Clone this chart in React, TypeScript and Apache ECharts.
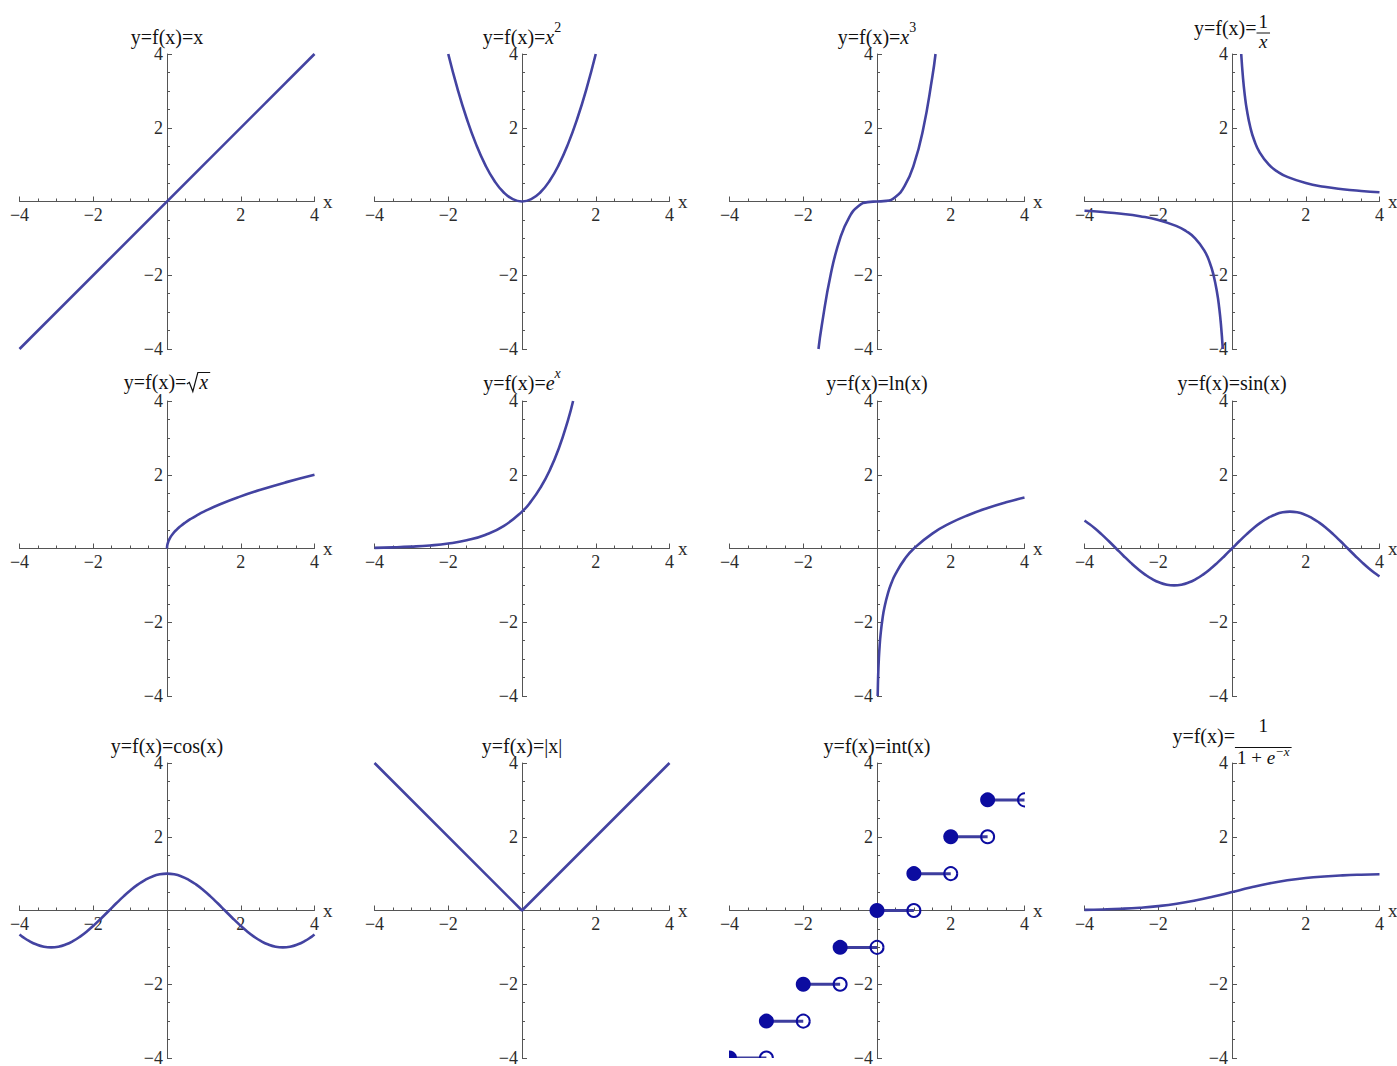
import React, { useEffect, useRef } from "react";
import * as echarts from "echarts";

const SERIF = "Liberation Serif";
const CURVE = "#4343a1";
const STEP_LINE = "#3d3d9e";
const DOT = "#0c0ca0";
const AXIS = "#555555";
const LABEL = "#2b2b2b";
const TITLE = "#111111";

// Axis range and labelled ticks shared by every panel
const axisMin = -4;
const axisMax = 4;
const labelledTicks = [-4, -2, 2, 4];

// y = x
const identityX = [-4, 4];
const identityY = [-4, 4];

// y = x^2
const squareX = [-2, -1.75, -1.5, -1.25, -1, -0.75, -0.5, -0.25, 0, 0.25, 0.5, 0.75, 1, 1.25, 1.5, 1.75, 2];
const squareY = [4, 3.0625, 2.25, 1.5625, 1, 0.5625, 0.25, 0.0625, 0, 0.0625, 0.25, 0.5625, 1, 1.5625, 2.25, 3.0625, 4];

// y = x^3
const cubeX = [-1.587, -1.5, -1.25, -1, -0.75, -0.5, -0.25, 0, 0.25, 0.5, 0.75, 1, 1.25, 1.5, 1.587];
const cubeY = [-4, -3.375, -1.953, -1, -0.422, -0.125, -0.016, 0, 0.016, 0.125, 0.422, 1, 1.953, 3.375, 4];

// y = 1/x, two branches
const recipPosX = [0.25, 0.3, 0.35, 0.4, 0.5, 0.6, 0.75, 1, 1.25, 1.5, 2, 2.5, 3, 3.5, 4];
const recipPosY = [4, 3.333, 2.857, 2.5, 2, 1.667, 1.333, 1, 0.8, 0.667, 0.5, 0.4, 0.333, 0.286, 0.25];
const recipNegX = [-4, -3.5, -3, -2.5, -2, -1.5, -1.25, -1, -0.75, -0.6, -0.5, -0.4, -0.35, -0.3, -0.25];
const recipNegY = [-0.25, -0.286, -0.333, -0.4, -0.5, -0.667, -0.8, -1, -1.333, -1.667, -2, -2.5, -2.857, -3.333, -4];

// y = sqrt(x)
const sqrtX = [0, 0.01, 0.04, 0.09, 0.16, 0.25, 0.36, 0.49, 0.64, 0.81, 1, 1.44, 1.96, 2.56, 3.24, 4];
const sqrtY = [0, 0.1, 0.2, 0.3, 0.4, 0.5, 0.6, 0.7, 0.8, 0.9, 1, 1.2, 1.4, 1.6, 1.8, 2];

// y = e^x
const expX = [-4, -3.5, -3, -2.5, -2, -1.5, -1, -0.5, 0, 0.25, 0.5, 0.75, 1, 1.25, 1.386];
const expY = [0.018, 0.03, 0.05, 0.082, 0.135, 0.223, 0.368, 0.607, 1, 1.284, 1.649, 2.117, 2.718, 3.49, 4];

// y = ln(x)
const lnX = [0.0183, 0.025, 0.035, 0.05, 0.07, 0.1, 0.15, 0.2, 0.3, 0.4, 0.5, 0.75, 1, 1.5, 2, 2.5, 3, 3.5, 4];
const lnY = [-4, -3.689, -3.352, -2.996, -2.659, -2.303, -1.897, -1.609, -1.204, -0.916, -0.693, -0.288, 0, 0.405, 0.693, 0.916, 1.099, 1.253, 1.386];

// y = sin(x) and y = cos(x), sampled every pi/16 plus the two ends
const trigX = [-4, -3.927, -3.7306, -3.5343, -3.3379, -3.1416, -2.9452, -2.7489, -2.5525, -2.3562, -2.1598, -1.9635,
  -1.7671, -1.5708, -1.3744, -1.1781, -0.9817, -0.7854, -0.589, -0.3927, -0.1963, 0,
  0.1963, 0.3927, 0.589, 0.7854, 0.9817, 1.1781, 1.3744, 1.5708, 1.7671, 1.9635, 2.1598,
  2.3562, 2.5525, 2.7489, 2.9452, 3.1416, 3.3379, 3.5343, 3.7306, 3.927, 4];
const sinY = [0.7568, 0.7071, 0.5556, 0.3827, 0.1951, 0, -0.1951, -0.3827, -0.5556, -0.7071, -0.8315, -0.9239,
  -0.9808, -1, -0.9808, -0.9239, -0.8315, -0.7071, -0.5556, -0.3827, -0.1951, 0,
  0.1951, 0.3827, 0.5556, 0.7071, 0.8315, 0.9239, 0.9808, 1, 0.9808, 0.9239, 0.8315,
  0.7071, 0.5556, 0.3827, 0.1951, 0, -0.1951, -0.3827, -0.5556, -0.7071, -0.7568];
const cosY = [-0.6536, -0.7071, -0.8315, -0.9239, -0.9808, -1, -0.9808, -0.9239, -0.8315, -0.7071, -0.5556, -0.3827,
  -0.1951, 0, 0.1951, 0.3827, 0.5556, 0.7071, 0.8315, 0.9239, 0.9808, 1,
  0.9808, 0.9239, 0.8315, 0.7071, 0.5556, 0.3827, 0.1951, 0, -0.1951, -0.3827, -0.5556,
  -0.7071, -0.8315, -0.9239, -0.9808, -1, -0.9808, -0.9239, -0.8315, -0.7071, -0.6536];

// y = |x|
const absX = [-4, 0, 4];
const absY = [4, 0, 4];

// y = int(x): each step runs from its left end (closed) to its right end (open)
const stepLeft = [-4, -3, -2, -1, 0, 1, 2, 3];
const stepRight = [-3, -2, -1, 0, 1, 2, 3, 4];
const stepValue = [-4, -3, -2, -1, 0, 1, 2, 3];

// y = 1 / (1 + e^-x)
const logisticX = [-4, -3.5, -3, -2.5, -2, -1.5, -1, -0.5, 0, 0.5, 1, 1.5, 2, 2.5, 3, 3.5, 4];
const logisticY = [0.018, 0.029, 0.047, 0.076, 0.119, 0.182, 0.269, 0.378, 0.5, 0.622, 0.731, 0.818, 0.881, 0.924, 0.953, 0.971, 0.982];

type Tok = { t: string; it?: boolean; sup?: boolean };
type Piece = Tok | { frac: [Tok[], Tok[]] } | { sqrt: Tok[] };

const LHS: Tok = { t: "y=f(x)=" };
const panelTitles: Piece[][] = [
  [{ t: "y=f(x)=x" }],
  [LHS, { t: "x", it: true }, { t: "2", sup: true }],
  [LHS, { t: "x", it: true }, { t: "3", sup: true }],
  [LHS, { frac: [[{ t: "1" }], [{ t: "x", it: true }]] }],
  [LHS, { sqrt: [{ t: "x", it: true }] }],
  [LHS, { t: "e", it: true }, { t: "x", it: true, sup: true }],
  [{ t: "y=f(x)=ln(x)" }],
  [{ t: "y=f(x)=sin(x)" }],
  [{ t: "y=f(x)=cos(x)" }],
  [{ t: "y=f(x)=|x|" }],
  [{ t: "y=f(x)=int(x)" }],
  [LHS, { frac: [[{ t: "1" }], [{ t: "1 + " }, { t: "e", it: true }, { t: "\u2212x", it: true, sup: true }]] }],
];

// Layout of the 4 x 3 panel grid (pixels)
const PANEL = 295;
const colLeft = [19.5, 374.5, 729.5, 1084.5];
const rowTop = [54, 401, 763];
// distance from the top of each panel's y axis up to its title baseline
const titleGap = [10, 10, 10, 19.5, 12, 11, 11, 11, 10, 10, 10, 20];

const FONT_SIZE = 20;
const SUP_SIZE = 14;
const FRAC_SIZE = 19;

const pairs = (xs: number[], ys: number[]) => xs.map((x, i) => [x, ys[i]]);

const curves: { panel: number; data: number[][]; smooth: boolean }[] = [
  { panel: 0, data: pairs(identityX, identityY), smooth: false },
  { panel: 1, data: pairs(squareX, squareY), smooth: true },
  { panel: 2, data: pairs(cubeX, cubeY), smooth: true },
  { panel: 3, data: pairs(recipPosX, recipPosY), smooth: true },
  { panel: 3, data: pairs(recipNegX, recipNegY), smooth: true },
  { panel: 4, data: pairs(sqrtX, sqrtY), smooth: true },
  { panel: 5, data: pairs(expX, expY), smooth: true },
  { panel: 6, data: pairs(lnX, lnY), smooth: true },
  { panel: 7, data: pairs(trigX, sinY), smooth: true },
  { panel: 8, data: pairs(trigX, cosY), smooth: true },
  { panel: 9, data: pairs(absX, absY), smooth: false },
  { panel: 11, data: pairs(logisticX, logisticY), smooth: true },
];

const tickText = (v: number) => (v < 0 ? "\u2212" + -v : String(v));

let measureCtx: CanvasRenderingContext2D | null = null;
function fontOf(size: number, italic?: boolean) {
  return `${italic ? "italic " : ""}${size}px "${SERIF}", serif`;
}
function measure(text: string, size: number, italic?: boolean) {
  if (!measureCtx) measureCtx = document.createElement("canvas").getContext("2d");
  measureCtx!.font = fontOf(size, italic);
  return measureCtx!.measureText(text).width;
}

function textEl(text: string, x: number, baseline: number, size: number, italic?: boolean) {
  const y = baseline - 0.34 * size;
  return {
    type: "text",
    x,
    y,
    silent: true,
    style: {
      text,
      font: fontOf(size, italic),
      fill: TITLE,
      align: "left",
      verticalAlign: "middle",
      textAlign: "left",
      textVerticalAlign: "middle",
    },
  };
}

type RunOpts = { size: number; supSize: number; raise: number };
const mainRun: RunOpts = { size: FONT_SIZE, supSize: SUP_SIZE, raise: 12 };
const fracRun: RunOpts = { size: FRAC_SIZE, supSize: 13, raise: 8 };

function runWidth(toks: Tok[], o: RunOpts) {
  return toks.reduce((w, tk) => w + measure(tk.t, tk.sup ? o.supSize : o.size, tk.it), 0);
}

function drawRun(toks: Tok[], x: number, base: number, o: RunOpts, out: any[]) {
  for (const tk of toks) {
    const s = tk.sup ? o.supSize : o.size;
    const b = tk.sup ? base - o.raise : base;
    out.push(textEl(tk.t, x, b, s, tk.it));
    x += measure(tk.t, s, tk.it);
  }
  return x;
}

function pieceWidth(p: Piece) {
  if ("frac" in p) return Math.max(runWidth(p.frac[0], fracRun), runWidth(p.frac[1], fracRun)) + 4;
  if ("sqrt" in p) return 13 + runWidth(p.sqrt, mainRun) + 2;
  return runWidth([p], mainRun);
}

function buildTitle(pieces: Piece[], cx: number, base: number) {
  const out: any[] = [];
  const total = pieces.reduce((w, p) => w + pieceWidth(p), 0);
  let x = cx - total / 2;
  for (const p of pieces) {
    const w = pieceWidth(p);
    if ("frac" in p) {
      const [num, den] = p.frac;
      const isLong = den.length > 1;
      const numBase = isLong ? base - 11 : base - 6.5;
      const barY = isLong ? base + 4.5 : base - 1.5;
      const denBase = isLong ? base + 21 : base + 13;
      drawRun(num, x + (w - runWidth(num, fracRun)) / 2, numBase, fracRun, out);
      drawRun(den, x + (w - runWidth(den, fracRun)) / 2, denBase, fracRun, out);
      out.push({
        type: "line",
        silent: true,
        shape: { x1: x, y1: barY, x2: x + w, y2: barY },
        style: { stroke: TITLE, lineWidth: 1 },
      });
    } else if ("sqrt" in p) {
      const rw = runWidth(p.sqrt, mainRun);
      out.push({
        type: "polyline",
        silent: true,
        shape: {
          points: [
            [x + 0.5, base - 5],
            [x + 3, base - 6.5],
            [x + 6.5, base + 2.5],
            [x + 11.5, base - 16.5],
            [x + 13 + rw + 2, base - 16.5],
          ],
        },
        style: { stroke: TITLE, lineWidth: 1.2, fill: null },
      });
      drawRun(p.sqrt, x + 13, base, mainRun, out);
    } else {
      drawRun([p], x, base, mainRun, out);
    }
    x += w;
  }
  return out;
}

function buildOption() {
  const grid: any[] = [];
  const xAxis: any[] = [];
  const yAxis: any[] = [];
  // The axes cross at the centre of each square panel (value 0 of the symmetric range)
  const axisCommon = {
    type: "value",
    min: axisMin,
    max: axisMax,
    interval: 2,
    offset: -PANEL / 2,
    splitLine: { show: false },
    axisLine: { show: true, onZero: false, lineStyle: { color: AXIS, width: 1 } },
    axisTick: { show: true, inside: true, length: 5, lineStyle: { color: AXIS, width: 1 } },
    minorTick: { show: true, splitNumber: 4, length: 3, lineStyle: { color: AXIS, width: 1 } },
    axisLabel: {
      margin: 4,
      fontFamily: SERIF,
      fontSize: 18,
      color: LABEL,
      formatter: (v: number) => (labelledTicks.includes(v) ? tickText(v) : ""),
    },
  };
  for (let i = 0; i < 12; i++) {
    const r = Math.floor(i / 4);
    const c = i % 4;
    grid.push({
      left: colLeft[c],
      top: rowTop[r],
      width: PANEL,
      height: PANEL,
      containLabel: false,
      outerBoundsMode: "none",
    });
    xAxis.push({
      ...axisCommon,
      gridIndex: i,
      position: "bottom",
      name: "x",
      nameLocation: "end",
      nameGap: 5,
      nameTextStyle: { fontFamily: SERIF, fontSize: 19, color: LABEL },
    });
    yAxis.push({ ...axisCommon, gridIndex: i, position: "left" });
  }

  const series: any[] = curves.map((cv) => ({
    type: "line",
    xAxisIndex: cv.panel,
    yAxisIndex: cv.panel,
    data: cv.data,
    showSymbol: false,
    smooth: cv.smooth,
    clip: true,
    silent: true,
    lineStyle: { color: CURVE, width: 2.6 },
  }));

  series.push({
    type: "custom",
    xAxisIndex: 10,
    yAxisIndex: 10,
    clip: true,
    silent: true,
    data: stepLeft.map((l, i) => [l, stepRight[i], stepValue[i]]),
    encode: { x: [0, 1], y: 2 },
    renderItem: (_params: any, api: any) => {
      const a = api.coord([api.value(0), api.value(2)]);
      const b = api.coord([api.value(1), api.value(2)]);
      return {
        type: "group",
        children: [
          {
            type: "line",
            shape: { x1: a[0], y1: a[1], x2: b[0], y2: b[1] },
            style: { stroke: STEP_LINE, lineWidth: 3 },
          },
          {
            type: "circle",
            shape: { cx: b[0], cy: b[1], r: 6.5 },
            style: { fill: "none", stroke: DOT, lineWidth: 2 },
          },
          {
            type: "circle",
            shape: { cx: a[0], cy: a[1], r: 7.5 },
            style: { fill: DOT },
          },
        ],
      };
    },
  });

  return { animation: false, backgroundColor: "#ffffff", grid, xAxis, yAxis, series };
}

export default function App() {
  const ref = useRef<HTMLDivElement>(null);
  useEffect(() => {
    if (!ref.current) return;
    const chart = echarts.init(ref.current, undefined, { renderer: "svg" });
    chart.setOption(buildOption());
    const elements: any[] = [];
    panelTitles.forEach((pieces, i) => {
      const origin = chart.convertToPixel({ gridIndex: i }, [0, axisMax]) as number[];
      elements.push(...buildTitle(pieces, origin[0], origin[1] - titleGap[i]));
    });
    chart.setOption({ graphic: { elements } });
    return () => chart.dispose();
  }, []);
  return (
    <div
      ref={ref}
      style={{ position: "fixed", left: 0, top: 0, width: 1397, height: 1066, background: "#fff" }}
    />
  );
}
